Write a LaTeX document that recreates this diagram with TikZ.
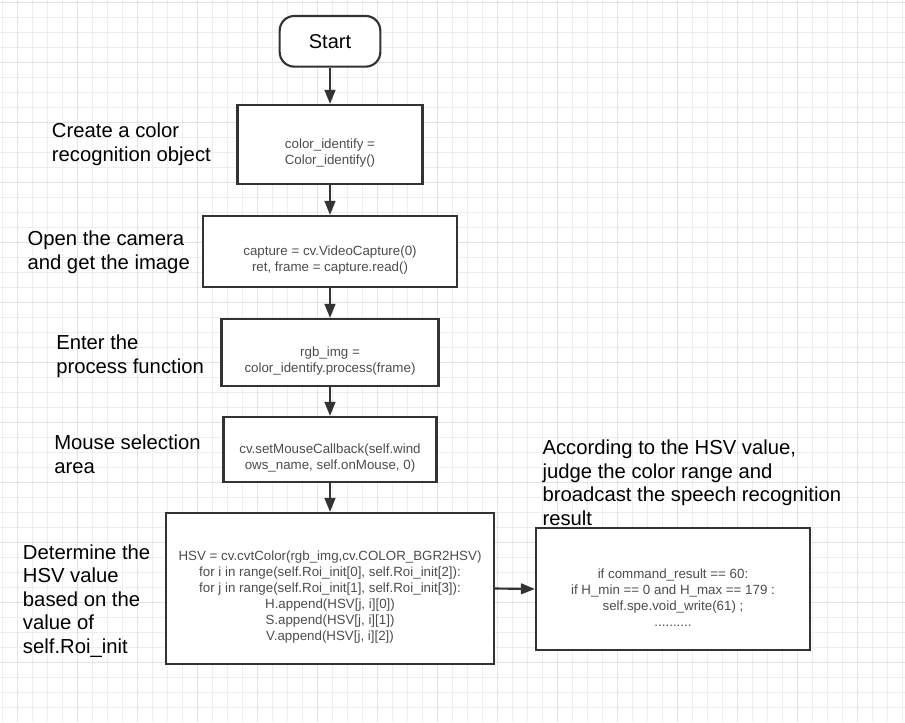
\documentclass[tikz,border=0pt]{standalone}
\usepackage{fontspec}
\setmainfont{Liberation Sans}
\usepackage{tikz}
\usetikzlibrary{arrows.meta, positioning}
\definecolor{mygrid}{RGB}{238,238,238}
\definecolor{mygridmajor}{RGB}{226,226,226}
\definecolor{myframe}{RGB}{51,51,51}
\definecolor{mycode}{RGB}{77,77,77}
\tikzset{
  stepbox/.style={rectangle, draw=myframe, fill=white, line width=1.6pt,
    inner sep=0pt},
  startbox/.style={rectangle, draw=myframe, fill=white, line width=1.6pt,
    rounded corners=11pt, minimum width=75.5pt, minimum height=38pt,
    font=\fontsize{15}{18}\selectfont},
  code/.style={align=center, inner sep=0pt, text=mycode,
    font=\fontsize{10}{12}\selectfont},
  note/.style={align=left, inner sep=0pt, anchor=north west,
    font=\fontsize{15.2}{17.6}\selectfont},
  arrow/.style={-{Triangle[length=10.5pt, width=8pt]}, line width=1.6pt,
    color=myframe}
}

\begin{document}
\begin{tikzpicture}[x=0.75pt, y=-0.75pt]
  % Background and grid
  \fill[white] (0,0) rectangle (905,722);
  \useasboundingbox (0,0) rectangle (905,722);
  \foreach \x in {0,...,60}
    \draw[mygrid, line width=0.75pt] (2.3+15*\x,0) -- (2.3+15*\x,722);
  \foreach \y in {0,...,47}
    \draw[mygrid, line width=0.75pt] (0,2.3+15*\y) -- (905,2.3+15*\y);
  \foreach \x in {0,...,14}
    \draw[mygridmajor, line width=0.75pt] (17.3+60*\x,0) -- (17.3+60*\x,722);
  \foreach \y in {0,...,11}
    \draw[mygridmajor, line width=0.75pt] (0,2.3+60*\y) -- (905,2.3+60*\y);

  % Start
  \node[startbox] (start) at (330,41.3) {Start};

  % Main steps
  \node[stepbox, minimum width=138.75pt, minimum height=59.25pt] (create) at (330,144.5) {};
  \node[code, yshift=-6.75pt] (createtxt) at (create) {color\_identify =\\Color\_identify()};

  \node[stepbox, minimum width=190.5pt, minimum height=53.25pt] (camera) at (330,251.5) {};
  \node[code, yshift=-6.75pt] (cameratxt) at (camera) {capture = cv.VideoCapture(0)\\ret, frame = capture.read()};

  \node[stepbox, minimum width=162.75pt, minimum height=50.25pt] (process) at (330,352.5) {};
  \node[code, yshift=-6.75pt] (processtxt) at (process) {rgb\_img =\\color\_identify.process(frame)};

  \node[stepbox, minimum width=159.75pt, minimum height=48.75pt] (mouse) at (330,449.5) {};
  \node[code, yshift=-6.75pt] (mousetxt) at (mouse) {cv.setMouseCallback(self.wind\\ows\_name, self.onMouse, 0)};

  \node[stepbox, minimum width=246pt, minimum height=113.25pt] (hsv) at (330,588.5) {};
  \node[code, yshift=-6.75pt] (hsvtxt) at (hsv) {HSV = cv.cvtColor(rgb\_img,cv.COLOR\_BGR2HSV)\\
    for i in range(self.Roi\_init[0], self.Roi\_init[2]):\\
    for j in range(self.Roi\_init[1], self.Roi\_init[3]):\\
    H.append(HSV[j, i][0])\\
    S.append(HSV[j, i][1])\\
    V.append(HSV[j, i][2])};

  \node[stepbox, minimum width=205.5pt, minimum height=91.5pt] (speech) at (673,589) {};
  \node[code, yshift=-6.75pt] (speechtxt) at (speech) {if command\_result == 60:\\
    if H\_min == 0 and H\_max == 179 :\\
    self.spe.void\_write(61) ;\\
    ..........};

  % Side notes
  \node[note] (createnote) at (51.7,122.7) {Create a color\\recognition object};
  \node[note] (cameranote) at (27.3,231) {Open the camera\\and get the image};
  \node[note] (processnote) at (56,335) {Enter the\\process function};
  \node[note] (mousenote) at (54,435) {Mouse selection\\area};
  \node[note] (hsvnote) at (22.7,544.3) {Determine the\\HSV value\\based on the\\value of\\self.Roi\_init};
  \node[note] (speechnote) at (542.3,440) {According to the HSV value,\\judge the color range and\\broadcast the speech recognition\\result};

  % Arrows
  \draw[arrow] (start) -- (create);
  \draw[arrow] (create) -- (camera);
  \draw[arrow] (camera) -- (process);
  \draw[arrow] (process) -- (mouse);
  \draw[arrow] (mouse) -- (hsv);
  \draw[arrow] (hsv.east) -- (speech.west);
\end{tikzpicture}
\end{document}
